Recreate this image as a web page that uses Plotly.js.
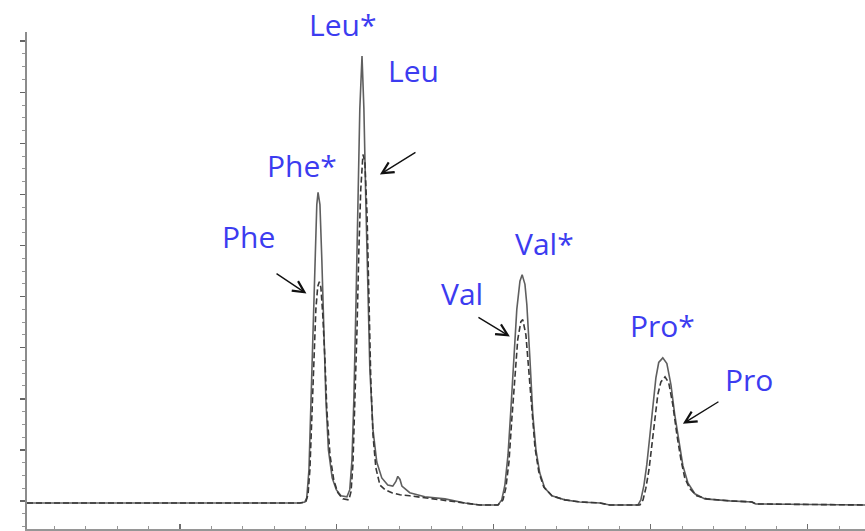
<!DOCTYPE html>
<html>
<head>
<meta charset="utf-8">
<script src="https://cdn.plot.ly/plotly-3.0.1.min.js"></script>
<style>html,body{margin:0;padding:0;background:#fff;}#chart{width:865px;height:531px;}</style>
</head>
<body>
<div id="chart"></div>
<script>
// Retention time (min) and detector signal
// Solid trace: labelled samples (Phe*, Leu*, Val*, Pro*)
var timeStar = [0.13,5.64,8.82,8.98,9.04,9.11,9.17,9.24,9.30,9.36,9.40,9.46,9.52,9.59,9.65,9.73,9.85,9.98,10.13,10.32,
  10.41,10.48,10.54,10.61,10.67,10.73,10.80,10.86,10.92,10.99,11.05,11.15,11.27,11.43,11.62,11.78,11.88,11.94,12.01,12.07,
  12.32,12.80,13.44,14.08,14.55,15.13,15.25,15.35,15.45,15.54,15.64,15.73,15.83,15.90,15.99,16.05,16.15,16.24,16.34,16.46,
  16.62,16.85,17.26,17.74,18.38,18.69,19.59,19.68,19.78,19.87,19.97,20.06,20.16,20.25,20.38,20.51,20.64,20.76,20.89,21.02,
  21.18,21.40,21.72,22.52,23.22,23.34,26.82];
var signalStar = [-0.4,-0.4,-0.4,-0.2,0.6,6.1,17.8,33.5,47.3,58.0,60.4,58.0,47.3,33.5,19.8,10.0,4.5,2.2,1.0,0.8,
  2.2,8.0,19.8,39.4,59.0,76.7,87.1,76.7,59.0,41.4,25.7,13.9,7.6,4.5,3.1,2.9,3.8,4.8,4.2,2.9,
  1.6,0.8,0.4,-0.4,-0.8,-0.8,0.2,3.1,9.0,17.8,28.6,37.5,43.0,44.3,42.4,38.4,27.6,16.9,10.0,5.5,
  2.5,1.0,0.2,-0.2,-0.4,-0.8,-0.8,0.2,3.1,7.1,12.9,18.8,24.1,27.1,28.0,26.9,22.7,16.9,11.4,6.9,
  3.5,1.4,0.4,0.0,-0.2,-0.6,-0.8];

// Dashed trace: Phe, Leu, Val, Pro
var timePlain = [0.13,8.82,9.01,9.08,9.14,9.20,9.27,9.33,9.39,9.44,9.49,9.55,9.62,9.68,9.78,9.90,10.03,10.19,10.38,
  10.45,10.51,10.57,10.64,10.70,10.76,10.83,10.89,10.96,11.02,11.08,11.15,11.24,11.37,11.53,11.75,12.01,12.32,12.80,13.44,
  14.08,14.55,15.13,15.29,15.38,15.48,15.57,15.67,15.76,15.86,15.92,16.02,16.11,16.21,16.31,16.43,16.59,16.85,17.26,17.74,
  18.38,18.69,19.65,19.75,19.84,19.94,20.03,20.13,20.22,20.32,20.45,20.57,20.70,20.83,20.96,21.08,21.24,21.46,21.78,22.52,
  23.22,23.34,26.82];
var signalPlain = [-0.4,-0.4,-0.2,1.2,6.1,15.9,27.6,37.5,42.0,42.9,41.8,36.5,27.6,17.8,9.0,4.1,1.6,0.4,0.2,
  1.8,7.1,17.8,33.5,49.2,61.0,67.8,66.5,56.1,39.4,23.7,12.9,6.5,3.1,2.2,1.6,1.2,1.0,0.6,0.2,
  -0.4,-0.8,-0.8,0.2,2.5,7.6,15.9,24.7,31.6,35.1,35.5,32.5,25.7,16.9,10.4,5.7,2.7,1.0,0.2,-0.2,
  -0.4,-0.8,-0.8,0.2,2.5,6.1,11.0,16.3,20.8,23.3,24.3,23.1,18.8,12.9,8.0,4.5,2.4,1.0,0.4,0.0,
  -0.2,-0.6,-0.8];

// Peak labels (the Leu* label sits above the plotting area, so it is placed in paper units)
var labelText = ["Leu*","Leu","Phe*","Phe","Val*","Val","Pro*","Pro"];
var labelTime = [10.19,12.45,8.89,7.20,16.62,13.98,20.38,23.12];
var labelSignal = [null,84.3,65.7,51.8,50.4,40.6,34.3,23.7];
var labelPaperY = [1.015,null,null,null,null,null,null,null];

// Arrows: tail -> head
var arrowTailTime = [8.03,12.55,14.46,22.20];
var arrowTailSignal = [44.7,68.4,36.1,19.6];
var arrowHeadTime = [9.03,11.37,15.51,21.02];
var arrowHeadSignal = [40.6,63.9,32.2,15.1];

var traces = [
  {x: timeStar, y: signalStar, type: 'scatter', mode: 'lines', name: 'labelled',
   line: {color: 'rgb(95,95,95)', width: 1.6}, hoverinfo: 'skip'},
  {x: timePlain, y: signalPlain, type: 'scatter', mode: 'lines', name: 'plain',
   line: {color: 'rgb(55,55,55)', width: 1.6, dash: '6px,3px'}, hoverinfo: 'skip'}
];

var annotations = [];
for (var i = 0; i < labelText.length; i++) {
  var a = {x: labelTime[i], xref: 'x', text: labelText[i],
    showarrow: false, xanchor: 'center', yanchor: 'middle',
    font: {family: 'Open Sans, sans-serif', size: 30, color: 'rgb(60,60,240)'}};
  if (labelSignal[i] === null) { a.y = labelPaperY[i]; a.yref = 'paper'; }
  else { a.y = labelSignal[i]; a.yref = 'y'; }
  annotations.push(a);
}
for (var j = 0; j < arrowTailTime.length; j++) {
  annotations.push({x: arrowHeadTime[j], y: arrowHeadSignal[j], xref: 'x', yref: 'y',
    ax: arrowTailTime[j], ay: arrowTailSignal[j], axref: 'x', ayref: 'y', text: '',
    showarrow: true, arrowhead: 5, arrowsize: 1.6, arrowwidth: 1.4, arrowcolor: '#111', standoff: 0});
}

var layout = {
  width: 865, height: 531,
  margin: {l: 27, r: 0, t: 32, b: 2, pad: 0},
  paper_bgcolor: '#ffffff', plot_bgcolor: '#ffffff',
  showlegend: false,
  xaxis: {range: [0.13, 26.82], showgrid: false, zeroline: false, showline: true,
    linecolor: 'rgb(150,150,150)', linewidth: 2, ticks: 'inside', tick0: 0, dtick: 5,
    ticklen: 5, tickwidth: 1.2, tickcolor: 'rgb(110,110,110)', showticklabels: false,
    minor: {ticks: 'inside', dtick: 1, ticklen: 3, tickwidth: 1, tickcolor: 'rgb(150,150,150)'}},
  yaxis: {range: [-5.5, 91.8], showgrid: false, zeroline: false, showline: true,
    linecolor: 'rgb(140,140,140)', linewidth: 2, ticks: 'outside', tick0: 0, dtick: 10,
    ticklen: 5, tickwidth: 1.5, tickcolor: 'rgb(100,100,100)', showticklabels: false,
    minor: {ticks: 'outside', dtick: 2.5, ticklen: 3, tickwidth: 1, tickcolor: 'rgb(150,150,150)'}},
  annotations: annotations
};

Plotly.newPlot('chart', traces, layout, {staticPlot: true, displayModeBar: false});
</script>
</body>
</html>
